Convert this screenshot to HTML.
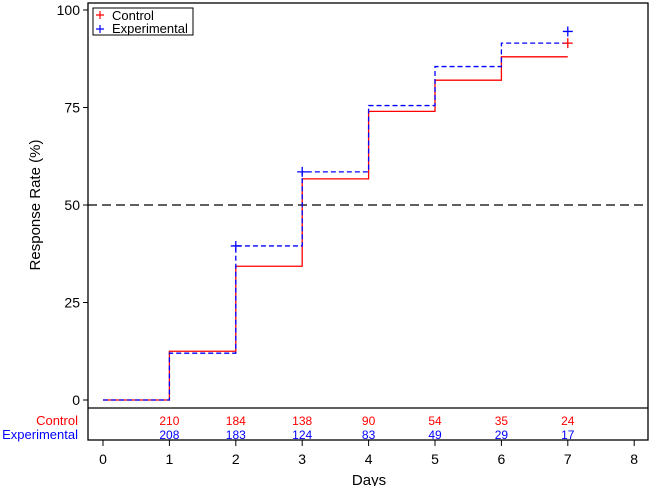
<!DOCTYPE html>
<html><head><meta charset="utf-8"><style>
body{margin:0;background:#fff}
text{font-family:"Liberation Sans",sans-serif}
</style></head><body>
<svg id="c" width="650" height="486" xmlns="http://www.w3.org/2000/svg"></svg>
<script>
const days=[0,1,2,3,4,5,6,7];
const ctrl=[0,12.5,34.3,56.7,74,82,88];
const expv=[0,12,39.5,58.5,75.5,85.5,91.5];
const ctrlMarks=[[7,91.5]];
const expMarks=[[2,39.5],[3,58.5],[7,94.5]];
const ctrlRisk=[210,184,138,90,54,35,24];
const expRisk=[208,183,124,83,49,29,17];
const yTicks=[0,25,50,75,100];
const xTicks=[0,1,2,3,4,5,6,7,8];
const NS='http://www.w3.org/2000/svg';
const svg=document.getElementById('c');
const X=d=>103+d*66.4, Y=v=>400-v*3.9;
function el(t,a,p){const e=document.createElementNS(NS,t);for(const k in a)e.setAttribute(k,a[k]);(p||svg).appendChild(e);return e;}
let f=el('rect',{x:88,y:3,width:560,height:437,fill:'none',stroke:'#000','stroke-width':1.3});

let sep=el('line',{x1:88,x2:648,y1:408,y2:408,stroke:'#000','stroke-width':1.3});

yTicks.forEach(v=>{el('line',{x1:83,x2:88,y1:Y(v),y2:Y(v),stroke:'#000'});
 const t=el('text',{x:80,y:Y(v)+5,'text-anchor':'end','font-size':14});t.textContent=v;
 });
xTicks.forEach(d=>{el('line',{x1:X(d),x2:X(d),y1:440,y2:446,stroke:'#000'});
 const t=el('text',{x:X(d),y:464,'text-anchor':'middle','font-size':14});t.textContent=d;
 });
let xt=el('text',{x:369,y:485,'text-anchor':'middle','font-size':15});xt.textContent='Days';

let yt=el('text',{x:0,y:0,'text-anchor':'middle','font-size':15,transform:'translate(40,205) rotate(-90)'});yt.textContent='Response Rate (%)';

let ref=el('line',{x1:88,x2:648,y1:Y(50),y2:Y(50),stroke:'#000','stroke-dasharray':'9,5','stroke-width':1.2});

function step(vals){let d='M'+X(0)+','+Y(vals[0]);for(let i=1;i<vals.length;i++){d+=' H'+X(i)+' V'+Y(vals[i]);}d+=' H'+X(vals.length);return d;}
let pc=el('path',{d:step(ctrl),fill:'none',stroke:'#f00','stroke-width':1.3});

let pe=el('path',{d:step(expv),fill:'none',stroke:'#00f','stroke-width':1.3,'stroke-dasharray':'5,3'});

function plus(x,y,c,name){const g=el('path',{d:`M${x-5},${y}H${x+5}M${x},${y-5}V${y+5}`,stroke:c,'stroke-width':1.3});
 }
ctrlMarks.forEach(m=>plus(X(m[0]),Y(m[1]),'#f00','control-censor-mark'));
expMarks.forEach(m=>plus(X(m[0]),Y(m[1]),'#00f','experimental-censor-mark'));
ctrlRisk.forEach((n,i)=>{const t=el('text',{x:X(i+1),y:425,'text-anchor':'middle','font-size':12,fill:'#f00'});t.textContent=n;
 });
expRisk.forEach((n,i)=>{const t=el('text',{x:X(i+1),y:439,'text-anchor':'middle','font-size':12,fill:'#00f'});t.textContent=n;
 });
let lc=el('text',{x:78,y:425,'text-anchor':'end','font-size':13,fill:'#f00'});lc.textContent='Control';

let le=el('text',{x:78,y:439,'text-anchor':'end','font-size':13,fill:'#00f'});le.textContent='Experimental';

let lg=el('g',{});
el('rect',{x:93,y:8,width:100,height:27,fill:'#fff',stroke:'#000','stroke-width':1},lg);
el('path',{d:'M96,15H104M100,11V19',stroke:'#f00','stroke-width':1.2},lg);
el('path',{d:'M96,29H104M100,25V33',stroke:'#00f','stroke-width':1.2},lg);
let t1=el('text',{x:112,y:20,'font-size':13},lg);t1.textContent='Control';

let t2=el('text',{x:112,y:33,'font-size':13},lg);t2.textContent='Experimental';

</script>
</body></html>
